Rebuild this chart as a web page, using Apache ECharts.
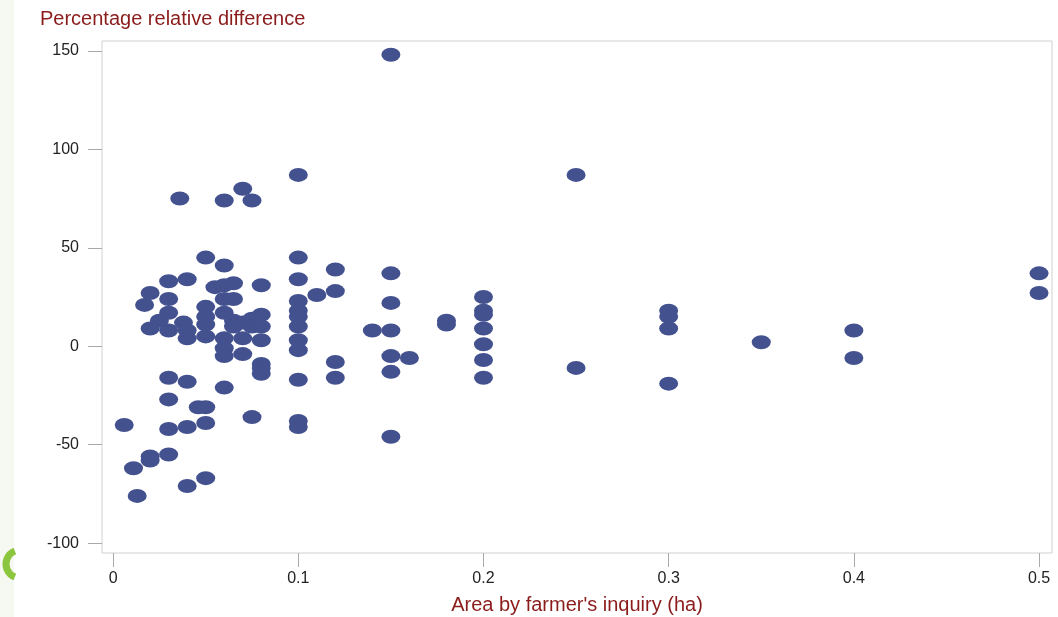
<!DOCTYPE html>
<html>
<head>
<meta charset="utf-8">
<script src="https://cdn.jsdelivr.net/npm/echarts@6/dist/echarts.min.js"></script>
<style>
  html, body { margin: 0; padding: 0; background: #fff; }
  #chart { width: 1058px; height: 617px; }
</style>
</head>
<body>
<div id="chart"></div>
<script>
// area (ha) and matching percentage relative difference
let areaHa = [
    0.006, 0.011, 0.013, 0.017,
    0.02, 0.02, 0.02, 0.02,
    0.025,
    0.03, 0.03, 0.03, 0.03, 0.03, 0.03, 0.03, 0.03,
    0.036, 0.038,
    0.04, 0.04, 0.04, 0.04, 0.04, 0.04,
    0.046,
    0.05, 0.05, 0.05, 0.05, 0.05, 0.05, 0.05, 0.05,
    0.055,
    0.06, 0.06, 0.06, 0.06, 0.06, 0.06, 0.06, 0.06, 0.06,
    0.065, 0.065, 0.065, 0.065,
    0.07, 0.07, 0.07, 0.07,
    0.075, 0.075, 0.075, 0.075,
    0.08, 0.08, 0.08, 0.08, 0.08, 0.08, 0.08,
    0.1, 0.1, 0.1, 0.1, 0.1, 0.1, 0.1, 0.1, 0.1, 0.1, 0.1, 0.1,
    0.11,
    0.12, 0.12, 0.12, 0.12,
    0.14,
    0.15, 0.15, 0.15, 0.15, 0.15, 0.15, 0.15,
    0.16,
    0.18, 0.18,
    0.2, 0.2, 0.2, 0.2, 0.2, 0.2, 0.2,
    0.25, 0.25,
    0.3, 0.3, 0.3, 0.3,
    0.35,
    0.4, 0.4,
    0.5, 0.5
];
let pctDiff = [
    -40, -62, -76, 21,
    27, 9, -56, -58,
    13,
    33, 24, 17, 8, -16, -27, -42, -55,
    75, 12,
    34, 8, 4, -18, -41, -71,
    -31,
    45, 20, 15, 11, 5, -31, -39, -67,
    30,
    74, 41, 31, 24, 17, 4, -1, -5, -21,
    32, 24, 13, 10,
    80, 12, 4, -4,
    74, 14, 10, -36,
    31, 16, 10, 3, -9, -11, -14,
    87, 45, 34, 23, 18, 15, 10, 3, -2, -17, -38, -41,
    26,
    39, 28, -8, -16,
    8,
    148, 37, 22, 8, -5, -13, -46,
    -6,
    13, 11,
    25, 18, 16, 9, 1, -7, -16,
    87, -11,
    18, 15, 9, -19,
    2,
    8, -6,
    37, 27
];
let xTicks = [0, 0.1, 0.2, 0.3, 0.4, 0.5];
let yTicks = [-100, -50, 0, 50, 100, 150];

let darkRed = '#8b1c1c';

let points = [];
for (let i = 0; i < areaHa.length; i++)
{
    points.push([areaHa[i], pctDiff[i]]);
}

var myChart = echarts.init(document.getElementById('chart'));

let option = {
    animation: false,
    title: {
        text: 'Percentage relative difference',
        left: 35,
        top: 4,
        textStyle: {
            color: darkRed,
            fontFamily: 'Liberation Sans',
            fontSize: 20,
            fontWeight: 'normal'
        }
    },
    graphic: [
        {
            type: 'rect',
            shape: { x: 0, y: 0, width: 14, height: 617 },
            style: { fill: '#f6f8f2' },
            z: -1
        },
        {
            type: 'arc',
            shape: { cx: 20, cy: 564, r: 14, startAngle: Math.PI * 0.62, endAngle: Math.PI * 1.38 },
            style: { stroke: '#8cc63e', lineWidth: 7, fill: null }
        }
    ],
    grid: {
        left: 102,
        top: 41,
        right: 6,
        bottom: 64,
        containLabel: false,
        outerBoundsMode: 'none',
        show: true,
        borderColor: '#d0d0d0',
        borderWidth: 1,
        backgroundColor: '#fff'
    },
    xAxis: {
        type: 'value',
        min: -0.006,
        max: 0.507,
        name: "Area by farmer's inquiry (ha)",
        nameLocation: 'middle',
        nameGap: 42,
        nameTextStyle: {
            color: darkRed,
            fontFamily: 'Liberation Sans',
            fontSize: 20
        },
        axisLine: { show: false, onZero: false },
        splitLine: { show: false },
        axisTick: {
            show: true,
            length: 14,
            customValues: xTicks,
            lineStyle: { color: '#aaa' }
        },
        axisLabel: {
            customValues: xTicks,
            margin: 18,
            color: '#222',
            fontFamily: 'Liberation Sans',
            fontSize: 16
        }
    },
    yAxis: {
        type: 'value',
        min: -105,
        max: 155,
        axisLine: { show: false, onZero: false },
        splitLine: { show: false },
        axisTick: {
            show: true,
            length: 14,
            customValues: yTicks,
            lineStyle: { color: '#aaa' }
        },
        axisLabel: {
            customValues: yTicks,
            margin: 23,
            color: '#222',
            fontFamily: 'Liberation Sans',
            fontSize: 16
        }
    },
    series: [{
        type: 'scatter',
        symbol: 'circle',
        symbolSize: [19, 14],
        itemStyle: { color: '#43518f', opacity: 1 },
        data: points
    }]
};

myChart.setOption(option);
</script>
</body>
</html>
